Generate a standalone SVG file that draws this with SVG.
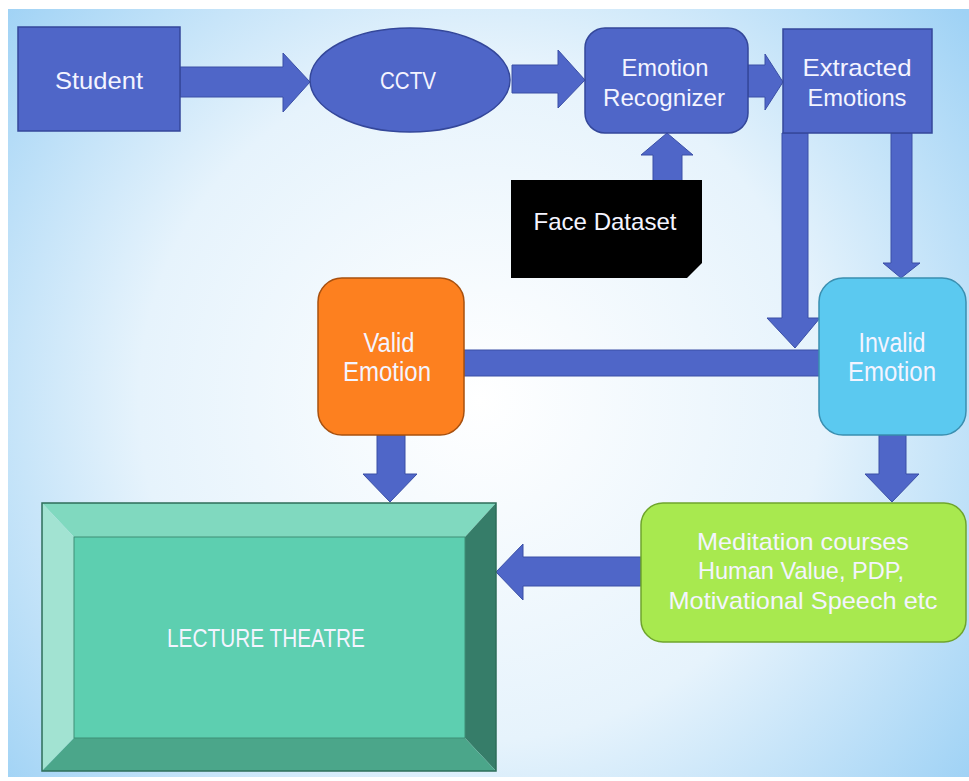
<svg xmlns="http://www.w3.org/2000/svg" width="969" height="781" viewBox="0 0 969 781">
<defs>
<radialGradient id="bg" cx="480" cy="400" r="620" gradientUnits="userSpaceOnUse">
<stop offset="0" stop-color="#ffffff"/>
<stop offset="0.55" stop-color="#e6f3fc"/>
<stop offset="1" stop-color="#9fd2f5"/>
</radialGradient>
<style>
.blue{fill:#4f66c8;stroke:#34479a;stroke-width:1.5}
.arrow{fill:#4f66c8;stroke:#3a4fa6;stroke-width:1}
.t{font-family:"Liberation Sans",Arial,sans-serif;font-size:24px;fill:#f4f4ff;text-anchor:middle}
.tl{font-size:27px}
</style>
</defs>
<rect x="0" y="0" width="969" height="781" fill="#ffffff"/>
<rect x="8" y="9" width="961" height="768" fill="url(#bg)"/>

<g id="connectors">
<polygon class="arrow" points="180,67 283,67 283,53 310,82 283,112 283,97 180,97"/>
<polygon class="arrow" points="512,65 558,65 558,50 585,80 558,108 558,93 512,93"/>
<polygon class="arrow" points="748,65 765,65 765,54 783,82 765,110 765,97 748,97"/>
<polygon class="arrow" points="653,181 653,155 641,155 667,133 693,155 682,155 682,181"/>
<polygon class="arrow" points="782,133 808,133 808,318 820,318 795,348 767,318 782,318"/>
<polygon class="arrow" points="891,133 912,133 912,263 920,263 901,278 883,263 891,263"/>
<rect class="arrow" x="464" y="350" width="356" height="26"/>
<polygon class="arrow" points="377,435 405,435 405,474 417,474 390,502 363,474 377,474"/>
<polygon class="arrow" points="879,435 906,435 906,474 919,474 892,502 865,474 879,474"/>
<polygon class="arrow" points="641,557 523,557 523,544 496,572 523,600 523,586 641,586"/>
</g>

<g id="student">
<rect class="blue" x="18" y="27" width="162" height="104"/>
<text class="t" x="99" y="89" textLength="88" lengthAdjust="spacingAndGlyphs">Student</text>
</g>

<g id="cctv">
<ellipse class="blue" cx="410" cy="80" rx="100" ry="52"/>
<text class="t" x="408" y="89" textLength="56" lengthAdjust="spacingAndGlyphs">CCTV</text>
</g>

<g id="emotion-recognizer">
<rect class="blue" x="585" y="28" width="163" height="105" rx="20"/>
<text class="t" x="665" y="76" textLength="87" lengthAdjust="spacingAndGlyphs">Emotion</text>
<text class="t" x="664" y="106" textLength="122" lengthAdjust="spacingAndGlyphs">Recognizer</text>
</g>

<g id="extracted-emotions">
<rect class="blue" x="783" y="29" width="149" height="104"/>
<text class="t" x="857" y="76" textLength="109" lengthAdjust="spacingAndGlyphs">Extracted</text>
<text class="t" x="857" y="106" textLength="99" lengthAdjust="spacingAndGlyphs">Emotions</text>
</g>

<g id="face-dataset">
<polygon points="511,180 702,180 702,263 687,278 511,278" fill="#000000"/>
<text class="t" x="605" y="230" textLength="143" lengthAdjust="spacingAndGlyphs">Face Dataset</text>
</g>

<g id="valid-emotion">
<rect x="318" y="278" width="146" height="157" rx="24" fill="#fd801f" stroke="#a8500e" stroke-width="1.5"/>
<text class="t tl" x="389" y="352" textLength="51" lengthAdjust="spacingAndGlyphs">Valid</text>
<text class="t tl" x="387" y="381" textLength="88" lengthAdjust="spacingAndGlyphs">Emotion</text>
</g>

<g id="invalid-emotion">
<rect x="819" y="278" width="147" height="157" rx="24" fill="#5bc9f0" stroke="#3a8fb0" stroke-width="1.5"/>
<text class="t tl" x="892" y="352" textLength="67" lengthAdjust="spacingAndGlyphs">Invalid</text>
<text class="t tl" x="892" y="381" textLength="88" lengthAdjust="spacingAndGlyphs">Emotion</text>
</g>

<g id="meditation">
<rect x="641" y="503" width="325" height="139" rx="22" fill="#a8e94f" stroke="#6fa52c" stroke-width="1.5"/>
<text class="t" x="803" y="550" textLength="212" lengthAdjust="spacingAndGlyphs">Meditation courses</text>
<text class="t" x="801" y="579" textLength="206" lengthAdjust="spacingAndGlyphs">Human Value, PDP,</text>
<text class="t" x="803" y="609" textLength="269" lengthAdjust="spacingAndGlyphs">Motivational Speech etc</text>
</g>

<g id="lecture-theatre">
<polygon points="42,503 496,503 465,537 74,537" fill="#80d9bf"/>
<polygon points="42,503 74,537 74,738 42,771" fill="#a2e3d2"/>
<polygon points="496,503 496,771 465,738 465,537" fill="#367d69"/>
<polygon points="42,771 74,738 465,738 496,771" fill="#4ba68a"/>
<rect x="74" y="537" width="391" height="201" fill="#5dcfb0" stroke="#3f8f76" stroke-width="1"/>
<rect x="42" y="503" width="454" height="268" fill="none" stroke="#2e6e5a" stroke-width="1.5"/>
<text class="t" x="266" y="647" style="font-size:26px" textLength="198" lengthAdjust="spacingAndGlyphs">LECTURE THEATRE</text>
</g>
</svg>
